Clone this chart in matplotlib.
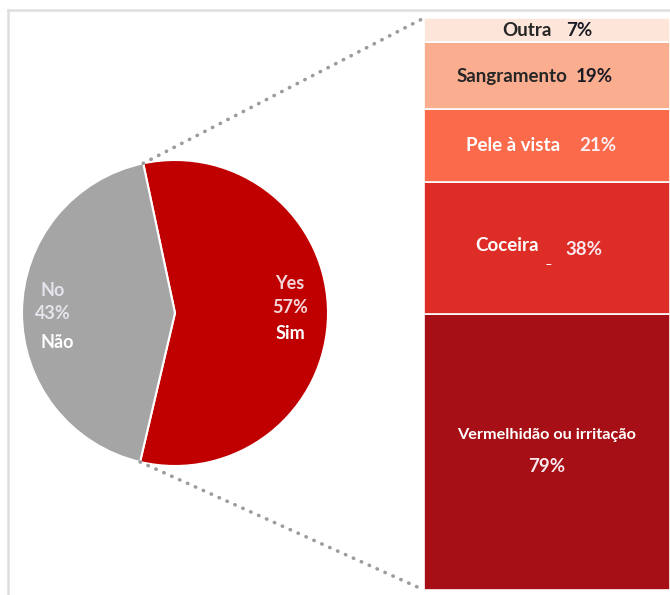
import numpy as np
import matplotlib.pyplot as plt
from matplotlib.patches import ConnectionPatch
from matplotlib.lines import Line2D

plt.rcParams['font.family'] = ['Lato', 'DejaVu Sans']

# pie data
pie_labels = ['Yes', 'No']
pie_pt = ['Sim', 'Não']
pie_values = [57, 43]
pie_colors = ['#C00000', '#A5A5A5']

# breakdown of "Yes"
bar_labels = ['Vermelhidão ou irritação', 'Coceira', 'Pele à vista', 'Sangramento', 'Outra']
bar_values = [79, 38, 21, 19, 7]
bar_colors = ['#A50F15', '#DE2D26', '#FC6A4C', '#FBAD8F', '#FEE5D9']

fig = plt.figure(figsize=(6.7, 5.95), dpi=100)

# frame lines like the original screenshot
fig.add_artist(Line2D([8/670, 8/670], [0, 585/595], color='#DEDEDE', lw=1.8))
fig.add_artist(Line2D([8/670, 1], [585/595, 585/595], color='#DEDEDE', lw=1.8))

# ---- pie
ax1 = fig.add_axes([22/670, 129/595, 306/670, 306/595])
start = 102
ax1.pie(pie_values, colors=pie_colors, startangle=start, counterclock=False,
        wedgeprops=dict(edgecolor='white', linewidth=1.5))
ax1.set_xlim(-1, 1)
ax1.set_ylim(-1, 1)
ax1.set_aspect('equal')
ax1.axis('off')

pfs = 13
ax1.text(0.752, 0.19, pie_labels[0], ha='center', va='center', color='#F3D6DA',
         fontsize=pfs, fontweight='bold')
ax1.text(0.752, 0.035, f'{pie_values[0]}%', ha='center', va='center', color='#F3D6DA',
         fontsize=pfs, fontweight='bold')
ax1.text(0.752, -0.135, pie_pt[0], ha='center', va='center', color='white',
         fontsize=pfs, fontweight='bold')
ax1.text(-0.797, 0.15, pie_labels[1], ha='center', va='center', color='#E4E4EC',
         fontsize=pfs, fontweight='bold')
ax1.text(-0.797, -0.005, f'{pie_values[1]}%', ha='center', va='center', color='#E4E4EC',
         fontsize=pfs, fontweight='bold')
ax1.text(-0.77, -0.19, pie_pt[1], ha='center', va='center', color='white',
         fontsize=pfs, fontweight='bold')

# ---- stacked bar
ax2 = fig.add_axes([424/670, 5/595, 246/670, 572/595])
bottom = 0
for v, c in zip(bar_values, bar_colors):
    ax2.bar(0.5, v, width=1, bottom=bottom, color=c, edgecolor='white', linewidth=1.2)
    bottom += v
total = sum(bar_values)
ax2.set_xlim(0, 1)
ax2.set_ylim(0, total)
ax2.axis('off')

fs = 13.5
mids = np.cumsum(bar_values) - np.array(bar_values) / 2
# Vermelhidao
ax2.text(0.5, mids[0] + 5, bar_labels[0], ha='center', va='center', color='white',
         fontsize=11.7, fontweight='bold')
ax2.text(0.5, mids[0] - 4.2, f'{bar_values[0]}%', ha='center', va='center', color='#F8E8EE',
         fontsize=fs, fontweight='bold')
# Coceira
ax2.text(0.468, mids[1] + 0.9, bar_labels[1], ha='right', va='center', color='white',
         fontsize=fs, fontweight='bold')
ax2.text(0.504, mids[1] - 3, '_', ha='center', va='center', color='white', fontsize=9)
ax2.text(0.573, mids[1] - 0.5, f'{bar_values[1]}%', ha='left', va='center', color='#F8E8EE',
         fontsize=fs, fontweight='bold')
# Pele
ax2.text(0.553, mids[2], bar_labels[2], ha='right', va='center', color='white',
         fontsize=fs, fontweight='bold')
ax2.text(0.63, mids[2], f'{bar_values[2]}%', ha='left', va='center', color='#FBEFF2',
         fontsize=fs, fontweight='bold')
# Sangramento
ax2.text(0.581, mids[3] - 0.3, bar_labels[3], ha='right', va='center', color='#262626',
         fontsize=fs, fontweight='bold')
ax2.text(0.618, mids[3] - 0.3, f'{bar_values[3]}%', ha='left', va='center', color='#1A1A24',
         fontsize=fs, fontweight='bold')
# Outra
ax2.text(0.52, mids[4], bar_labels[4], ha='right', va='center', color='#262626',
         fontsize=fs, fontweight='bold')
ax2.text(0.577, mids[4], f'{bar_values[4]}%', ha='left', va='center', color='#1A1A24',
         fontsize=fs, fontweight='bold')

# ---- connector lines (dotted)
a_top = np.deg2rad(start)
a_bot = np.deg2rad(start - 360 * pie_values[0] / sum(pie_values))
for ang, yb in [(a_top, total), (a_bot, 0)]:
    con = ConnectionPatch(xyA=(np.cos(ang), np.sin(ang)), coordsA=ax1.transData,
                          xyB=(0, yb), coordsB=ax2.transData,
                          color='#9C9C9C', lw=2.6, linestyle=(0, (0.1, 2.3)),
                          capstyle='round')
    fig.add_artist(con)

fig.savefig('out.png', dpi=100)
